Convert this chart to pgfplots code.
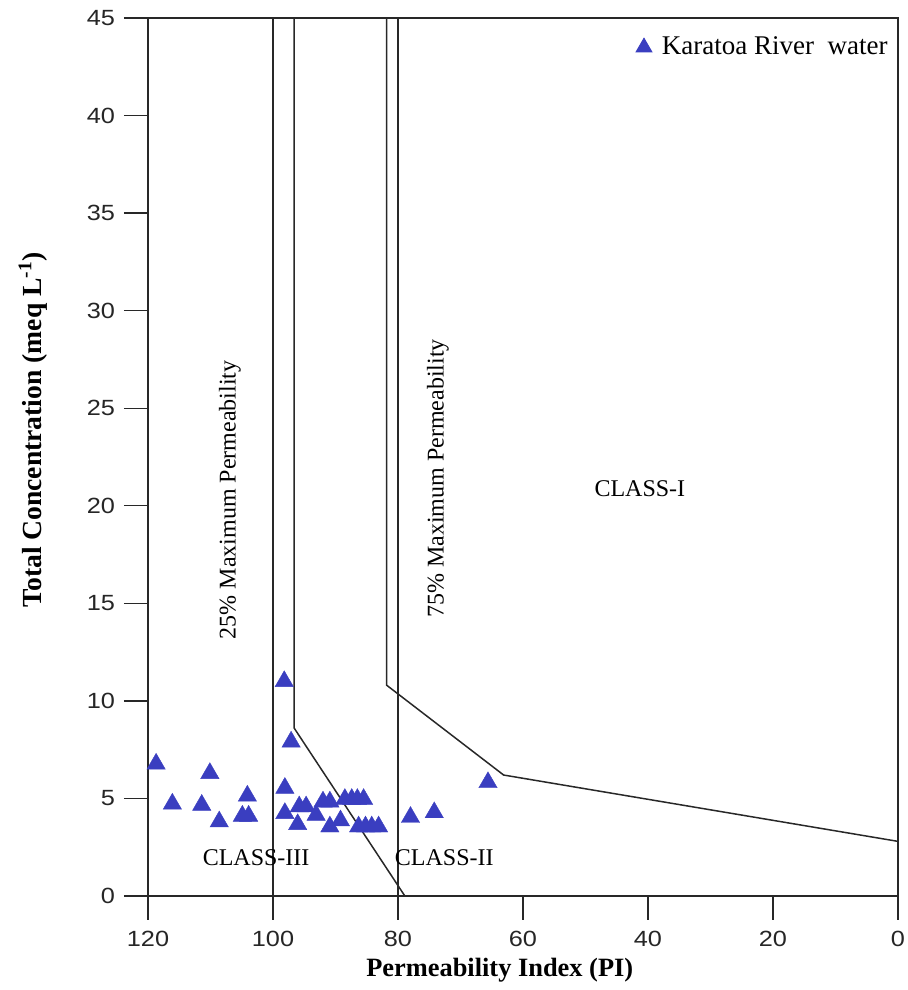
\documentclass[border=0pt]{standalone}
\usepackage{pgfplots}
\pgfplotsset{compat=1.18}
\usepackage{fontspec}
\setmainfont{Liberation Serif}
\setsansfont{Liberation Sans}
\newfontfamily\tickfont[FakeStretch=1.15]{Liberation Sans}
\definecolor{tri}{RGB}{58,62,192}
\definecolor{ln}{RGB}{40,40,40}

\begin{document}
\begin{tikzpicture}
\begin{axis}[
    scale only axis,
    width=375pt, height=439pt,
    x dir=reverse,
    xmin=0, xmax=120,
    ymin=0, ymax=45,
    xtick={0,20,...,120},
    ytick={0,5,...,45},
    tick align=outside,
    xtick pos=bottom, ytick pos=left,
    major tick length=12pt,
    tick style={line width=0.7pt, color=ln},
    /pgf/number format/assume math mode=true,
    ticklabel style={font=\fontsize{11}{13}\selectfont\tickfont, color=black!85},
    yticklabel style={xshift=-1pt},
    xticklabel style={yshift=-2pt},
    axis line style={line width=0.6pt, color=ln},
    xlabel={\textbf{Permeability Index (PI)}},
    ylabel={\textbf{Total Concentration (meq L\textsuperscript{-1})}},
    xlabel style={font=\fontsize{13.2}{15}\selectfont, at={(axis description cs:0.469,0)}, anchor=north, inner sep=0pt, yshift=-31pt},
    ylabel style={font=\fontsize{13.8}{15}\selectfont, at={(axis description cs:-0.1333,0.531)}, anchor=south, inner sep=0pt},
    legend style={draw=none, fill=none, at={(axis description cs:1.0,0.988)}, anchor=north east,
        font=\fontsize{13.5}{15}\selectfont,
        /tikz/every odd column/.append style={column sep=3pt}},
    legend cell align=left,
    clip=false,
]
% boundary lines
\addplot[ln, line width=0.75pt, forget plot] coordinates {(100,0) (100,45)};
\addplot[ln, line width=0.75pt, forget plot] coordinates {(80,0) (80,45)};
\addplot[ln, line width=0.75pt, forget plot] coordinates {(96.6,45) (96.6,8.6) (78.9,0)};
\addplot[ln, line width=0.75pt, forget plot] coordinates {(81.8,45) (81.8,10.8) (63.1,6.2) (0,2.8)};

% Karatoa River water
\addplot[only marks, mark=triangle*, mark size=5.3pt,
    mark options={fill=tri, draw=tri, line width=0.2pt}, forget plot]
coordinates {
(118.7,6.77) (116.1,4.72) (111.4,4.66) (110.1,6.29) (108.6,3.81)
(104.1,5.13) (104.9,4.10) (103.9,4.10)
(98.2,11.0) (97.1,7.9) (98.1,5.53) (98.1,4.24) (96.05,3.67)
(95.8,4.58) (94.7,4.58) (93.1,4.15) (92.0,4.83) (90.9,4.83)
(90.9,3.55) (89.2,3.86)
(88.5,4.96) (87.4,4.96) (86.5,4.96) (85.5,4.96)
(86.3,3.55) (85.2,3.55) (84.2,3.55) (83.1,3.55)
(78.0,4.04) (74.2,4.28) (65.6,5.82)
};
\addlegendimage{only marks, mark=triangle*, mark size=4.6pt, mark options={fill=tri, draw=tri}}
\addlegendentry{Karatoa River\ \ water}

% region texts
\node[rotate=90, font=\fontsize{12}{14}\selectfont] at (axis cs:106.9,20.3) {25\% Maximum Permeability};
\node[rotate=90, font=\fontsize{12}{14}\selectfont] at (axis cs:73.6,21.4) {75\% Maximum Permeability};
\node[font=\fontsize{12}{14}\selectfont] at (axis cs:41.3,20.9) {CLASS-I};
\node[font=\fontsize{12}{14}\selectfont] at (axis cs:102.7,1.95) {CLASS-III};
\node[font=\fontsize{12}{14}\selectfont] at (axis cs:72.6,1.95) {CLASS-II};

% heavier left and bottom axis lines
\draw[ln, line width=1.4pt] (axis description cs:0,1) -- (axis description cs:0,0) -- (axis description cs:1,0);
\coordinate (O) at (axis description cs:0,0);
\end{axis}
\pgfresetboundingbox
\path[use as bounding box] (O) ++(-74pt,-47pt) rectangle ++(454pt,495pt);
\end{tikzpicture}
\end{document}
